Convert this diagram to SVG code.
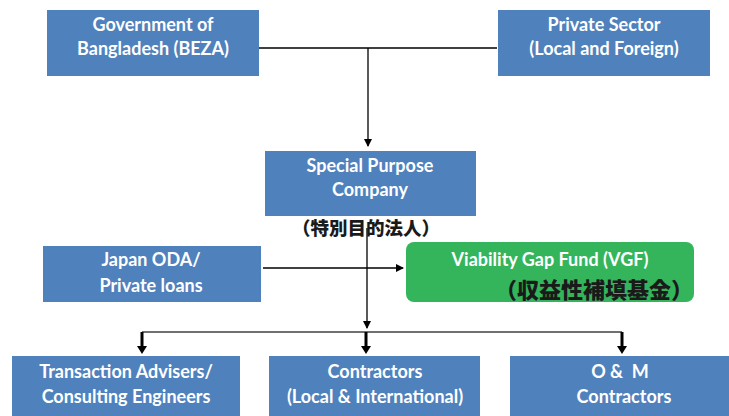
<svg xmlns="http://www.w3.org/2000/svg" width="729" height="416" viewBox="0 0 729 416">
<style>
.box{fill:#4F81BD;}
.vgf{fill:#34B55B;}
.t{font-family:Lato,"Noto Sans",sans-serif;font-weight:bold;font-size:18px;fill:#fff;text-anchor:middle;}
.jp{font-family:"Noto Sans CJK JP","Noto Sans CJK SC",sans-serif;font-weight:900;fill:#1a1a1a;text-anchor:middle;}
.ln{stroke:#000;stroke-width:1.3;fill:none;}
.thick{stroke:#000;stroke-width:3;fill:none;}
</style>
<defs>
<marker id="ah" markerWidth="8" markerHeight="8" refX="7" refY="4" orient="auto" markerUnits="userSpaceOnUse">
<path d="M0,0 L8,4 L0,8 Z" fill="#000"/>
</marker>
</defs>
<rect width="729" height="416" fill="#fff"/>
<g id="connectors">
<path class="ln" d="M259,48 H497"/>
<path class="ln" d="M368,48 V146" marker-end="url(#ah)"/>
<path class="ln" d="M367,228 V328" marker-end="url(#ah)"/>
<path class="ln" d="M263,268 H403" marker-end="url(#ah)"/>
<path d="M142,332 H622" stroke="#404040" stroke-width="1.3" fill="none"/>
<path class="thick" d="M142,332 V347"/>
<path d="M137,346 L147,346 L142,354 Z" fill="#000"/>
<path class="thick" d="M366,332 V347"/>
<path d="M361,346 L371,346 L366,354 Z" fill="#000"/>
<path class="thick" d="M622,332 V347"/>
<path d="M617,346 L627,346 L622,354 Z" fill="#000"/>
</g>
<g id="gov">
<rect class="box" x="47" y="10" width="212" height="66"/>
<text class="t" x="153" y="31">Government of</text>
<text class="t" x="153" y="55">Bangladesh (BEZA)</text>
</g>
<g id="private">
<rect class="box" x="498" y="10" width="212" height="66"/>
<text class="t" x="604" y="31">Private Sector</text>
<text class="t" x="604" y="55">(Local and Foreign)</text>
</g>
<g id="spc">
<rect class="box" x="265" y="151" width="211" height="65"/>
<text class="t" x="370" y="172">Special Purpose</text>
<text class="t" x="370" y="196">Company</text>
<text class="jp" x="366" y="235" font-size="18.5">（特別目的法人）</text>
</g>
<g id="japan">
<rect class="box" x="43" y="246" width="218" height="56"/>
<text class="t" x="151" y="266">Japan ODA/</text>
<text class="t" x="151" y="292">Private loans</text>
</g>
<g id="vgf">
<rect class="vgf" x="406" y="242" width="288" height="60" rx="8"/>
<text class="t" x="550" y="266">Viability Gap Fund (VGF)</text>
<text class="jp" x="594" y="298" font-size="22">（収益性補填基金）</text>
</g>
<g id="advisers">
<rect class="box" x="12" y="356" width="228" height="60"/>
<text class="t" x="126" y="378">Transaction Advisers/</text>
<text class="t" x="126" y="403">Consulting Engineers</text>
</g>
<g id="contractors">
<rect class="box" x="269" y="356" width="211" height="60"/>
<text class="t" x="375" y="378">Contractors</text>
<text class="t" x="375" y="403">(Local &amp; International)</text>
</g>
<g id="om">
<rect class="box" x="510" y="356" width="219" height="60"/>
<text class="t" x="620" y="378" xml:space="preserve">O &amp;  M</text>
<text class="t" x="624" y="403">Contractors</text>
</g>
</svg>
